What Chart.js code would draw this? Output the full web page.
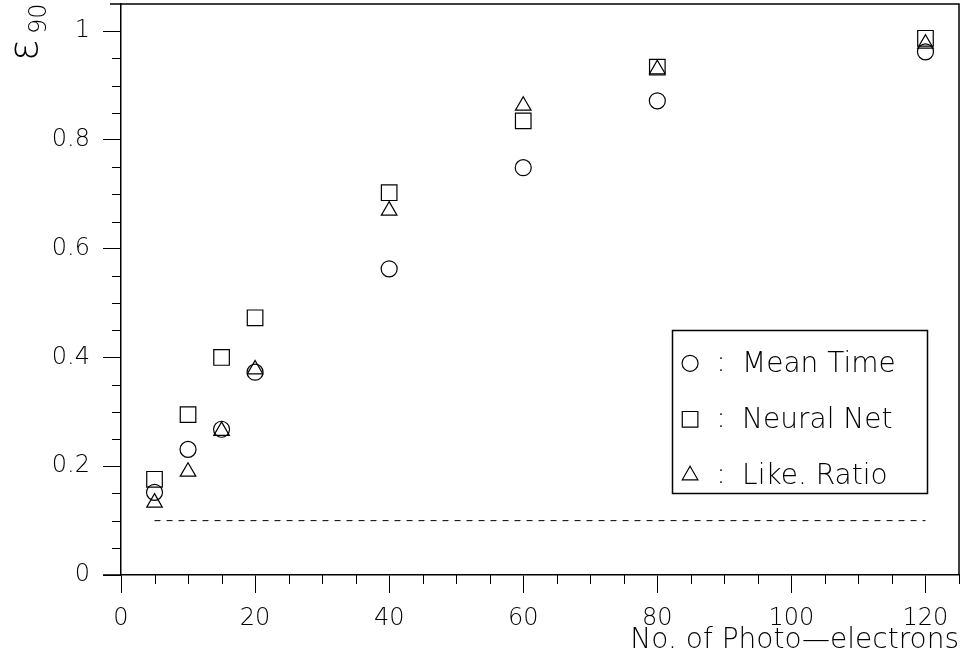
<!DOCTYPE html>
<html lang="en">
<head>
  <meta charset="UTF-8" />
  <title>ε90 vs No. of Photo-electrons</title>
  <script src="https://cdn.jsdelivr.net/npm/chart.js"></script>
  <style>
    html, body { margin: 0; padding: 0; background: #fff; }
    #wrap { width: 963px; height: 661px; }
  </style>
</head>
<body>
<div id="wrap"><canvas id="effChart" width="963" height="661"></canvas></div>

<script>
  // data
  const photoElectrons = [5, 10, 15, 20, 40, 60, 80, 120];
  const meanTime  = [0.152, 0.231, 0.268, 0.373, 0.563, 0.749, 0.872, 0.962];
  const neuralNet = [0.176, 0.295, 0.400, 0.473, 0.703, 0.835, 0.934, 0.987];
  const likeRatio = [0.133, 0.190, 0.265, 0.378, 0.670, 0.863, 0.930, 0.977];
  const cutX = [5, 120];
  const cutY = [0.1, 0.1];

  const xTicks = [0, 20, 40, 60, 80, 100, 120];
  const yTicks = [0, 0.2, 0.4, 0.6, 0.8, 1];
  const yTickLabels = ['0', '0.2', '0.4', '0.6', '0.8', '1'];
  const seriesNames = ['Mean Time', 'Neural Net', 'Like. Ratio'];

  const FONT = "'DejaVu Sans', sans-serif";
  const pts = ys => photoElectrons.map((x, i) => ({ x, y: ys[i] }));

  function marker(ctx, style, x, y) {
    ctx.beginPath();
    if (style === 'circle') {
      ctx.arc(x, y, 8, 0, Math.PI * 2);
    } else if (style === 'rect') {
      ctx.rect(x - 7.8, y - 7.8, 15.6, 15.6);
    } else {
      ctx.moveTo(x, y - 9);
      ctx.lineTo(x + 7.8, y + 4.5);
      ctx.lineTo(x - 7.8, y + 4.5);
      ctx.closePath();
    }
    ctx.stroke();
  }

  const framePlugin = {
    id: 'frame',
    afterDraw(chart) {
      const { ctx, chartArea: a, scales: { x, y } } = chart;
      ctx.save();
      ctx.strokeStyle = '#000';
      ctx.fillStyle = '#000';

      // box top / right
      ctx.lineWidth = 1.5;
      ctx.beginPath();
      ctx.moveTo(a.left - 11, a.top);
      ctx.lineTo(a.right, a.top);
      ctx.lineTo(a.right, a.bottom);
      ctx.moveTo(a.left - 18, a.bottom);
      ctx.lineTo(a.left, a.bottom);
      ctx.stroke();

      // minor ticks
      ctx.lineWidth = 1;
      ctx.beginPath();
      for (let v = 5; v <= x.max; v += 5) {
        if (v % 20 === 0) continue;
        const px = Math.round(x.getPixelForValue(v)) + 0.5;
        ctx.moveTo(px, a.bottom);
        ctx.lineTo(px, a.bottom + 9);
      }
      for (let v = 0.05; v <= y.max; v += 0.05) {
        if (Math.abs(v * 5 - Math.round(v * 5)) < 1e-6) continue;
        const py = Math.round(y.getPixelForValue(v)) + 0.5;
        ctx.moveTo(a.left - 9, py);
        ctx.lineTo(a.left, py);
      }
      ctx.stroke();

      // y title: epsilon with subscript 90, rotated
      ctx.save();
      ctx.translate(37, 61);
      ctx.rotate(-Math.PI / 2);
      ctx.textBaseline = 'alphabetic';
      ctx.textAlign = 'left';
      ctx.font = "200 40px " + FONT;
      ctx.fillText('ε', 0, 0);
      ctx.font = "200 24px " + FONT;
      ctx.fillText('90', 27, 9);
      ctx.restore();

      // legend box
      const lx0 = x.getPixelForValue(82.2), lx1 = x.getPixelForValue(120.2);
      const ly0 = y.getPixelForValue(0.45), ly1 = y.getPixelForValue(0.15);
      ctx.lineWidth = 1.5;
      ctx.strokeRect(Math.round(lx0) + 0.5, Math.round(ly0) + 0.5, Math.round(lx1 - lx0), Math.round(ly1 - ly0));
      ctx.lineWidth = 1.2;
      ctx.font = "200 28px " + FONT;
      ctx.textBaseline = 'middle';
      const styles = ['circle', 'rect', 'triangle'];
      seriesNames.forEach((name, i) => {
        const ry = ly0 + 33 + i * 56;
        marker(ctx, styles[i], lx0 + 18, ry);
        ctx.textAlign = 'center';
        ctx.fillText(':', lx0 + 49, ry);
        ctx.textAlign = 'left';
        ctx.fillText(name, lx0 + 70, ry + 1);
      });
      ctx.restore();
    }
  };

  const common = {
    showLine: false,
    borderColor: '#000',
    backgroundColor: 'rgba(0,0,0,0)',
    pointBorderColor: '#000',
    pointBackgroundColor: 'rgba(0,0,0,0)',
    pointBorderWidth: 1.2
  };

  new Chart(document.getElementById('effChart'), {
    type: 'line',
    data: {
      datasets: [
        { ...common, label: seriesNames[0], data: pts(meanTime), pointStyle: 'circle', pointRadius: 8 },
        { ...common, label: seriesNames[1], data: pts(neuralNet), pointStyle: 'rect', pointRadius: 11 },
        { ...common, label: seriesNames[2], data: pts(likeRatio), pointStyle: 'triangle', pointRadius: 9 },
        {
          label: 'cut',
          data: cutX.map((x, i) => ({ x, y: cutY[i] })),
          borderColor: '#000',
          borderWidth: 1,
          borderDash: [6, 6],
          pointRadius: 0,
          fill: false
        }
      ]
    },
    options: {
      responsive: false,
      animation: false,
      devicePixelRatio: 1,
      layout: { autoPadding: false, padding: { top: 4, right: 4, left: 0, bottom: 0 } },
      plugins: {
        legend: { display: false },
        tooltip: { enabled: false }
      },
      scales: {
        x: {
          type: 'linear',
          min: 0,
          max: 125,
          afterBuildTicks: s => { s.ticks = xTicks.map(v => ({ value: v })); },
          afterFit: s => {
            s.height = 86;
            s.paddingLeft = 0; s.paddingRight = 0;
          },
          grid: { drawOnChartArea: false, drawTicks: true, tickLength: 18, color: '#000', lineWidth: 1 },
          border: { display: true, color: '#000', width: 1.5 },
          ticks: { color: '#000', padding: 11, maxRotation: 0, font: { family: FONT, size: 24, weight: '200' } },
          title: {
            display: true,
            text: 'No. of Photo\u2014electrons',
            align: 'end',
            color: '#000',
            padding: { top: 0, bottom: 3 },
            font: { family: FONT, size: 28, weight: '200' }
          }
        },
        y: {
          type: 'linear',
          min: 0,
          max: 1.05,
          afterBuildTicks: s => { s.ticks = yTicks.map(v => ({ value: v })); },
          afterFit: s => {
            s.width = 121;
            s.paddingTop = 0; s.paddingBottom = 0;
          },
          grid: { drawOnChartArea: false, drawTicks: true, tickLength: 18, color: '#000', lineWidth: 1 },
          border: { display: true, color: '#000', width: 1.5 },
          ticks: {
            color: '#000',
            padding: 13,
            font: { family: FONT, size: 24, weight: '200' },
            callback: (v, i) => yTickLabels[i]
          }
        }
      }
    },
    plugins: [framePlugin]
  });
</script>
</body>
</html>
